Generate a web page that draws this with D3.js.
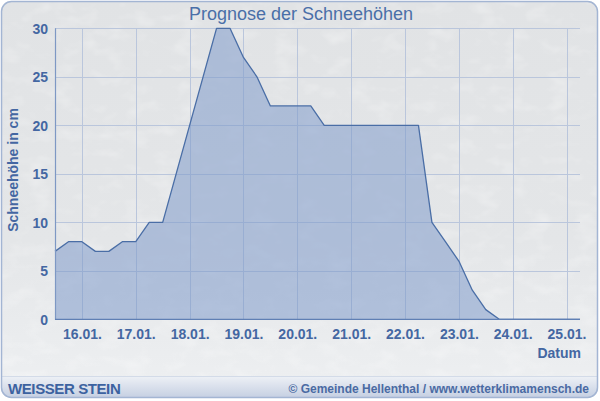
<!DOCTYPE html>
<html>
<head>
<meta charset="utf-8">
<script src="https://cdn.jsdelivr.net/npm/d3@7"></script>
<style>
  html, body { margin: 0; padding: 0; background: #ffffff; }
  svg { display: block; }
</style>
</head>
<body>
<svg id="chart" width="600" height="401"></svg>
<script>
// ---- data ----
const titleText = "Prognose der Schneehöhen";
const yAxisTitle = "Schneehöhe in cm";
const xAxisTitle = "Datum";
const footerLeft = "WEISSER STEIN";
const footerRight = "© Gemeinde Hellenthal / www.wetterklimamensch.de";

// forecast in 6-hour steps, starting 15.01. 12:00
const startTime = new Date(2021, 0, 15, 12);
const stepHours = 6;
const snowDepth = [7, 8, 8, 7, 7, 8, 8, 10, 10, 15, 20, 25, 30, 30, 27, 25, 22, 22, 22, 22,
                   20, 20, 20, 20, 20, 20, 20, 20, 10, 8, 6, 3, 1, 0, 0, 0, 0, 0, 0, 0];
const xTickLabels = ["16.01.", "17.01.", "18.01.", "19.01.", "20.01.", "21.01.", "22.01.", "23.01.", "24.01.", "25.01."];
const xTickDays = [16, 17, 18, 19, 20, 21, 22, 23, 24, 25];
const yTicks = [0, 5, 10, 15, 20, 25, 30];

// ---- setup ----
const svg = d3.select("#chart");
const W = 600, H = 401;
const plot = { left: 55, right: 580, top: 28.3, bottom: 319.3 };

const points = snowDepth.map((v, i) => ({ t: d3.timeHour.offset(startTime, i * stepHours), v }));

const x = d3.scaleTime()
  .domain([startTime, d3.timeHour.offset(startTime, (snowDepth.length - 1) * stepHours)])
  .range([plot.left, plot.right]);
const y = d3.scaleLinear().domain([0, 30]).range([plot.bottom, plot.top]);

const defs = svg.append("defs");
const bg = defs.append("linearGradient").attr("id", "bg").attr("x1", 0).attr("y1", 0).attr("x2", 0).attr("y2", 1);
bg.append("stop").attr("offset", "0%").attr("stop-color", "#e1e3e5");
bg.append("stop").attr("offset", "60%").attr("stop-color", "#e4e6e8");
bg.append("stop").attr("offset", "100%").attr("stop-color", "#eef0f2");

const foot = defs.append("linearGradient").attr("id", "foot").attr("x1", 0).attr("y1", 0).attr("x2", 0).attr("y2", 1);
foot.append("stop").attr("offset", "0%").attr("stop-color", "#eef1f6");
foot.append("stop").attr("offset", "100%").attr("stop-color", "#bfcadf");

const tex = defs.append("filter").attr("id", "tex").attr("x", 0).attr("y", 0).attr("width", 1).attr("height", 1);
tex.append("feTurbulence").attr("type", "fractalNoise").attr("baseFrequency", "0.04 0.07").attr("numOctaves", 3).attr("seed", 4);
tex.append("feColorMatrix").attr("type", "matrix")
  .attr("values", "0 0 0 0 1  0 0 0 0 1  0 0 0 0 1  0 0 0 1.6 -0.75");

const clip = defs.append("clipPath").attr("id", "frameclip");
clip.append("rect").attr("x", 1).attr("y", 1).attr("width", 597).attr("height", 397).attr("rx", 10);

// frame background
const frame = svg.append("g").attr("clip-path", "url(#frameclip)");
frame.append("rect").attr("x", 0).attr("y", 0).attr("width", W).attr("height", H).attr("fill", "url(#bg)");
frame.append("rect").attr("x", 0).attr("y", 0).attr("width", W).attr("height", 376)
  .attr("filter", "url(#tex)").attr("opacity", 0.4);

// footer band
frame.append("rect").attr("x", 0).attr("y", 376).attr("width", W).attr("height", 25).attr("fill", "url(#foot)");
frame.append("line").attr("x1", 0).attr("x2", W).attr("y1", 376.5).attr("y2", 376.5)
  .attr("stroke", "#d3dbe8").attr("stroke-width", 1);

// grid
const gridColor = "#bac6dc";
const tickDates = xTickDays.map(d => new Date(2021, 0, d, 0));
svg.append("g").selectAll("line").data(yTicks.filter(t => t > 0)).join("line")
  .attr("x1", plot.left).attr("x2", plot.right)
  .attr("y1", d => Math.round(y(d)) + 0.5).attr("y2", d => Math.round(y(d)) + 0.5)
  .attr("stroke", gridColor).attr("stroke-width", 1);
svg.append("g").selectAll("line").data(tickDates).join("line")
  .attr("x1", d => Math.round(x(d)) + 0.5).attr("x2", d => Math.round(x(d)) + 0.5)
  .attr("y1", plot.top).attr("y2", plot.bottom)
  .attr("stroke", gridColor).attr("stroke-width", 1);

// area
const area = d3.area().x(d => x(d.t)).y0(y(0)).y1(d => y(d.v));
const line = d3.line().x(d => x(d.t)).y(d => y(d.v));
svg.append("path").datum(points).attr("d", area)
  .attr("fill", "#7b97c9").attr("fill-opacity", 0.52);
svg.append("path").datum(points).attr("d", line)
  .attr("fill", "none").attr("stroke", "#4a6ea6").attr("stroke-width", 1.3).attr("stroke-linejoin", "round");

// axes lines
svg.append("line").attr("x1", plot.left + 0.5).attr("x2", plot.left + 0.5).attr("y1", plot.top).attr("y2", plot.bottom + 0.5)
  .attr("stroke", "#7e98c4").attr("stroke-width", 1.2);
svg.append("line").attr("x1", plot.left).attr("x2", plot.right).attr("y1", plot.bottom).attr("y2", plot.bottom)
  .attr("stroke", "#5f7fb4").attr("stroke-width", 1.2);

const textColor = "#4467a2";
const font = "'Liberation Sans', Arial, sans-serif";

// y tick labels via axis
const yAxis = d3.axisLeft(y).tickValues(yTicks).tickSize(0).tickPadding(0);
const yg = svg.append("g").attr("transform", `translate(${plot.left - 7},0)`).call(yAxis);
yg.select(".domain").remove();
yg.selectAll("text").attr("fill", textColor).attr("font-family", font).attr("font-size", 14)
  .attr("font-weight", "bold").attr("dy", "0.36em");

// x tick labels via axis
const xAxis = d3.axisBottom(x).tickValues(tickDates).tickFormat((d, i) => xTickLabels[i]).tickSize(0).tickPadding(0);
const xg = svg.append("g").attr("transform", `translate(0,${plot.bottom + 20})`).call(xAxis);
xg.select(".domain").remove();
xg.selectAll("text").attr("fill", textColor).attr("font-family", font).attr("font-size", 14)
  .attr("font-weight", "bold").attr("dy", 0).attr("y", 0);

// axis titles
svg.append("text").attr("x", 581).attr("y", 358).attr("text-anchor", "end")
  .attr("fill", textColor).attr("font-family", font).attr("font-size", 14).attr("font-weight", "bold")
  .text(xAxisTitle);
svg.append("text").attr("transform", "translate(18,170) rotate(-90)").attr("text-anchor", "middle")
  .attr("fill", textColor).attr("font-family", font).attr("font-size", 14).attr("font-weight", "bold")
  .text(yAxisTitle);

// title
svg.append("text").attr("x", 301).attr("y", 19.5).attr("text-anchor", "middle")
  .attr("fill", "#4a6fa8").attr("font-family", font).attr("font-size", 18)
  .text(titleText);

// footer texts
svg.append("text").attr("x", 8).attr("y", 394).attr("fill", "#3c62a0")
  .attr("font-family", font).attr("font-size", 15).attr("font-weight", "bold").attr("letter-spacing", -0.4)
  .text(footerLeft);
svg.append("text").attr("x", 589).attr("y", 393).attr("text-anchor", "end").attr("fill", "#4a6aa3")
  .attr("font-family", font).attr("font-size", 12).attr("font-weight", "bold")
  .text(footerRight);

// outer frame border
svg.append("rect").attr("x", 1.5).attr("y", 1.5).attr("width", 596).attr("height", 396).attr("rx", 10)
  .attr("fill", "none").attr("stroke", "#a3b5d3").attr("stroke-width", 1.5);
</script>
</body>
</html>
